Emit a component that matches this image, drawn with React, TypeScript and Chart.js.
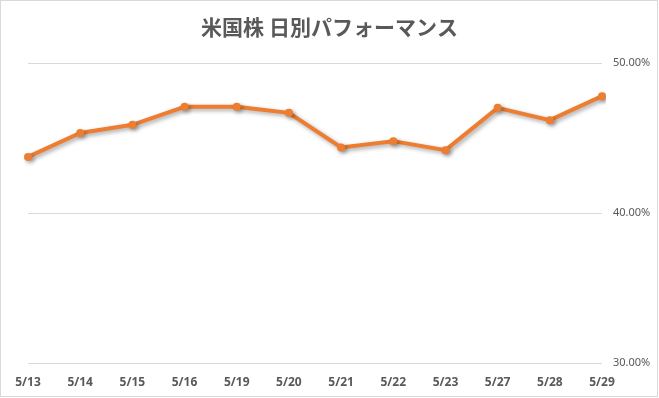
import React, { useEffect, useRef } from "react";
import { Chart, registerables } from "chart.js";

Chart.register(...registerables);

const TITLE = "米国株 日別パフォーマンス";
const categories = ["5/13", "5/14", "5/15", "5/16", "5/19", "5/20", "5/21", "5/22", "5/23", "5/27", "5/28", "5/29"];
const performance = [43.75, 45.35, 45.89, 47.09, 47.09, 46.69, 44.38, 44.8, 44.2, 47.02, 46.2, 47.8];
const yTicks = [30, 40, 50];

const borderPlugin = {
  id: "outerBorder",
  afterDraw(chart: any) {
    const ctx = chart.ctx;
    ctx.save();
    ctx.strokeStyle = "#d9d9d9";
    ctx.lineWidth = 1;
    ctx.strokeRect(0.5, 0.5, chart.width - 2, chart.height - 2);
    ctx.restore();
  },
};

const centerTitlePlugin = {
  id: "centerTitle",
  afterLayout(chart: any) {
    const t = chart.titleBlock;
    if (t) {
      t.left = 0;
      t.right = chart.width;
      t.width = chart.width;
    }
  },
};

const shadowPlugin = {
  id: "lineShadow",
  beforeDatasetsDraw(chart: any) {
    const ctx = chart.ctx;
    ctx.save();
    ctx.shadowColor = "rgba(0,0,0,0.35)";
    ctx.shadowBlur = 4;
    ctx.shadowOffsetX = 2;
    ctx.shadowOffsetY = 2;
  },
  afterDatasetsDraw(chart: any) {
    chart.ctx.restore();
  },
};

export default function App() {
  const ref = useRef<HTMLCanvasElement | null>(null);
  useEffect(() => {
    if (!ref.current) return;
    const chart = new Chart(ref.current, {
      type: "line",
      data: {
        labels: categories,
        datasets: [
          {
            data: performance,
            borderColor: "#ED7D31",
            backgroundColor: "#ED7D31",
            borderWidth: 4,
            pointRadius: 4,
            pointBorderWidth: 0,
            pointBackgroundColor: "#ED7D31",
            tension: 0,
          },
        ],
      },
      options: {
        animation: false,
        responsive: false,
        maintainAspectRatio: false,
        layout: { padding: { left: 28, right: 0, top: 0, bottom: 0 } },
        plugins: {
          legend: { display: false },
          tooltip: { enabled: false },
          title: {
            display: true,
            text: TITLE,
            color: "#595959",
            font: { family: "'Noto Sans CJK JP', 'Noto Sans'", size: 21, weight: "bold" },
            padding: { top: 14, bottom: 24 },
          },
        },
        scales: {
          x: {
            offset: false,
            grid: { display: false, drawTicks: false },
            border: { display: false },
            ticks: {
              color: "#595959",
              font: { family: "'Noto Sans'", size: 12, weight: "bold" },
              padding: 12,
              maxRotation: 0,
              autoSkip: false,
            },
            afterFit(scale: any) {
              scale.height = 35;
            },
          },
          y: {
            position: "right",
            min: 30,
            max: 50,
            afterBuildTicks(scale: any) {
              scale.ticks = yTicks.map((v) => ({ value: v }));
            },
            grid: { color: "#d9d9d9", drawTicks: false, lineWidth: 1 },
            border: { display: false },
            ticks: {
              color: "#595959",
              font: { family: "'Noto Sans'", size: 11 },
              padding: 11,
              callback: (v: any) => Number(v).toFixed(2) + "%",
            },
            afterFit(scale: any) {
              scale.width = 57;
            },
          },
        },
      },
      plugins: [centerTitlePlugin, shadowPlugin, borderPlugin],
    });
    return () => chart.destroy();
  }, []);
  return (
    <div style={{ position: "absolute", left: 0, top: 0, width: 659, height: 398, background: "#fff" }}>
      <canvas ref={ref} width={659} height={398} style={{ display: "block", width: 659, height: 398 }} />
    </div>
  );
}
